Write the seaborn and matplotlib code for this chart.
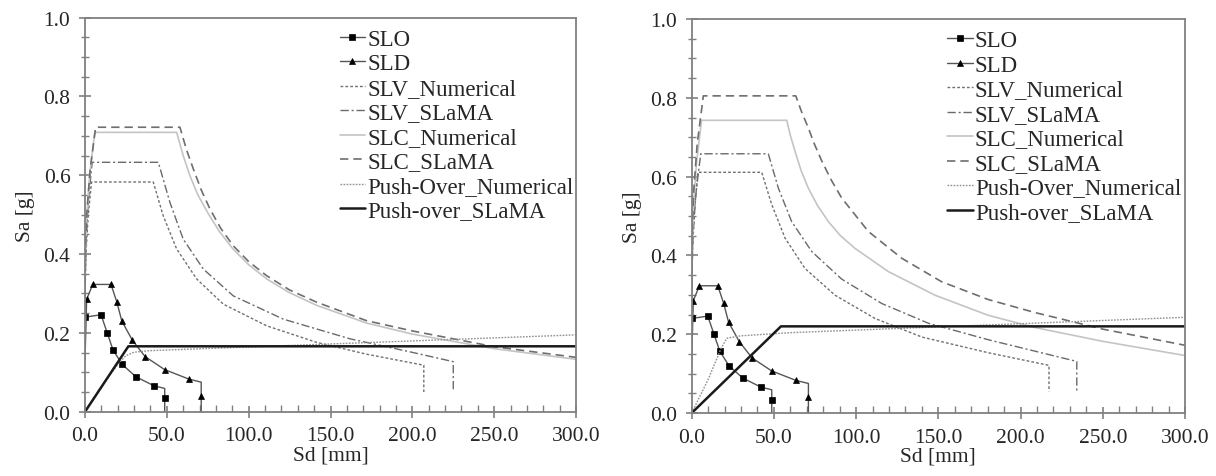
import numpy as np
import pandas as pd
import seaborn as sns
import matplotlib
matplotlib.use("Agg")
import matplotlib.pyplot as plt
from matplotlib.ticker import MultipleLocator, FormatStrFormatter

sns.set_theme(style="ticks")
plt.rcParams['font.family'] = ['Liberation Serif', 'DejaVu Serif']

# --- data (Sd in mm, Sa in g) ---

# SLO / SLD spectra are the same in both panels
slo_sd = [0.0, 9.8, 13.5, 17.1, 22.7, 31.0, 42.0, 48.7, 48.7, 48.7]
slo_sa = [0.240, 0.246, 0.201, 0.157, 0.120, 0.089, 0.066, 0.059, 0.034, 0.0]
slo_marks = [0, 1, 2, 3, 4, 5, 6, 8]

sld_sd = [0.0, 1.0, 4.7, 15.9, 19.4, 22.5, 29.0, 36.7, 48.6, 63.3, 71.0, 71.0, 71.0]
sld_sa = [0.130, 0.285, 0.323, 0.323, 0.279, 0.230, 0.181, 0.140, 0.107, 0.083, 0.075, 0.041, 0.0]
sld_marks = [1, 2, 3, 4, 5, 6, 7, 8, 9, 11]

# left panel
l_slvn_sd = [0.0, 0.14, 0.70, 1.91, 4.0, 41.7, 47.8, 56.0, 68.2, 84.5, 111.0, 141.5, 172.0, 207.0, 207.0]
l_slvn_sa = [0.233, 0.321, 0.408, 0.496, 0.583, 0.583, 0.497, 0.413, 0.337, 0.273, 0.218, 0.176, 0.146, 0.118, 0.050]
l_slvs_sd = [0.0, 0.15, 0.77, 2.10, 4.4, 44.8, 51.9, 60.0, 72.3, 90.6, 121.1, 161.9, 198.5, 225.0, 225.0]
l_slvs_sa = [0.253, 0.348, 0.443, 0.538, 0.633, 0.633, 0.531, 0.438, 0.362, 0.294, 0.235, 0.185, 0.152, 0.127, 0.055]
l_slcn_sd = [0.0, 0.20, 1.05, 2.87, 6.0, 56.0, 60.0, 64.0, 69.0, 75.0, 82.0, 90.0, 100.0, 111.0, 125.0, 141.5, 172.0, 200.0, 250.0, 300.0]
l_slcn_sa = [0.284, 0.390, 0.496, 0.603, 0.709, 0.709, 0.650, 0.600, 0.550, 0.505, 0.458, 0.415, 0.373, 0.337, 0.302, 0.270, 0.225, 0.197, 0.160, 0.133]
l_slcs_sd = [0.0, 0.22, 1.14, 3.11, 6.5, 58.0, 62.0, 66.2, 71.0, 76.4, 83.0, 90.6, 100.0, 111.0, 125.0, 141.5, 172.0, 200.0, 250.0, 300.0]
l_slcs_sa = [0.289, 0.397, 0.505, 0.614, 0.722, 0.722, 0.665, 0.616, 0.563, 0.514, 0.465, 0.421, 0.381, 0.345, 0.309, 0.278, 0.231, 0.205, 0.165, 0.138]
l_pon_sd = [0.0, 15.0, 21.4, 25.0, 30.0, 40.0, 300.0]
l_pon_sa = [0.0, 0.092, 0.127, 0.142, 0.151, 0.155, 0.195]
l_pos_sd = [0.0, 26.5, 300.0]
l_pos_sa = [0.0, 0.166, 0.166]

# right panel
r_slvn_sd = [0.0, 0.13, 0.67, 1.82, 3.8, 42.6, 48.7, 56.8, 68.9, 87.2, 111.5, 139.9, 180.4, 217.3, 217.3]
r_slvn_sa = [0.244, 0.336, 0.428, 0.519, 0.611, 0.611, 0.529, 0.444, 0.367, 0.299, 0.240, 0.193, 0.153, 0.121, 0.055]
r_slvs_sd = [0.0, 0.19, 0.96, 2.63, 5.5, 46.6, 52.7, 60.8, 73.0, 91.2, 115.6, 143.9, 180.4, 234.2, 234.2]
r_slvs_sa = [0.263, 0.362, 0.461, 0.559, 0.658, 0.658, 0.571, 0.486, 0.410, 0.340, 0.278, 0.228, 0.186, 0.131, 0.055]
r_slcn_sd = [0.0, 0.20, 1.05, 2.87, 6.0, 57.8, 60.0, 62.8, 66.5, 70.9, 76.5, 83.1, 90.5, 99.3, 119.6, 148.0, 180.4, 208.8, 250.0, 300.0]
r_slcn_sa = [0.297, 0.409, 0.520, 0.632, 0.743, 0.743, 0.705, 0.665, 0.616, 0.571, 0.527, 0.486, 0.450, 0.418, 0.359, 0.299, 0.248, 0.217, 0.182, 0.146]
r_slcs_sd = [0.0, 0.24, 1.24, 3.39, 7.1, 63.3, 66.8, 70.9, 74.8, 79.1, 84.8, 91.2, 107.4, 127.7, 152.1, 180.4, 208.8, 250.0, 300.0]
r_slcs_sa = [0.322, 0.443, 0.564, 0.684, 0.805, 0.805, 0.765, 0.724, 0.681, 0.640, 0.592, 0.546, 0.461, 0.393, 0.333, 0.288, 0.255, 0.213, 0.172]
r_pon_sd = [0.0, 10.0, 18.0, 21.4, 30.0, 60.0, 300.0]
r_pon_sa = [0.0, 0.085, 0.165, 0.190, 0.196, 0.204, 0.243]
r_pos_sd = [0.0, 54.3, 300.0]
r_pos_sa = [0.0, 0.220, 0.220]

x_ticks = [0, 50, 100, 150, 200, 250, 300]
y_ticks = [0.0, 0.2, 0.4, 0.6, 0.8, 1.0]

FS = 15.5
LEG_FS = 16.5
GRID = '#808080'


def draw_panel(ax, curves):
    for c in curves:
        df = pd.DataFrame({"Sd": c["sd"], "Sa": c["sa"]})
        kw = dict(color=c["color"], linewidth=c["lw"], linestyle=c["ls"])
        if "marker" in c:
            kw.update(marker=c["marker"], markevery=c["marks"], markersize=c["ms"],
                      markerfacecolor='black', markeredgecolor='black', markeredgewidth=0.5)
        sns.lineplot(data=df, x="Sd", y="Sa", ax=ax, sort=False, estimator=None,
                     label=c["name"], **kw)

    ax.set_xlim(0, 300)
    ax.set_ylim(0, 1.0)
    ax.set_xticks(x_ticks)
    ax.set_yticks(y_ticks)
    ax.xaxis.set_minor_locator(MultipleLocator(10))
    ax.yaxis.set_minor_locator(MultipleLocator(0.05))
    ax.xaxis.set_major_formatter(FormatStrFormatter('%.1f'))
    ax.yaxis.set_major_formatter(FormatStrFormatter('%.1f'))
    ax.tick_params(axis='both', which='major', direction='inout', length=9, width=1.2,
                   color=GRID, labelsize=FS, pad=6)
    ax.tick_params(axis='x', which='minor', direction='in', length=5, width=1.0, color=GRID)
    ax.tick_params(axis='y', which='minor', direction='inout', length=6, width=1.0, color=GRID)
    for s in ax.spines.values():
        s.set_visible(True)
        s.set_color(GRID)
        s.set_linewidth(1.3)
    ax.set_xlabel("Sd [mm]", fontsize=FS, labelpad=0)
    ax.set_ylabel("Sa [g]", fontsize=FS, labelpad=6)
    ax.legend(loc='upper left', bbox_to_anchor=(0.5, 0.995), frameon=False, fontsize=LEG_FS,
              handlelength=1.1, handletextpad=0.1, labelspacing=0.15, borderaxespad=0)


def make_curves(slvn, slvs, slcn, slcs, pon, pos):
    return [
        dict(name="SLO", sd=slo_sd, sa=slo_sa, color='#555555', lw=1.0, ls='-',
             marker='s', marks=slo_marks, ms=4.5),
        dict(name="SLD", sd=sld_sd, sa=sld_sa, color='#555555', lw=1.0, ls='-',
             marker='^', marks=sld_marks, ms=4.5),
        dict(name="SLV_Numerical", sd=slvn[0], sa=slvn[1], color='#707070', lw=1.0, ls=(0, (2, 1.5))),
        dict(name="SLV_SLaMA", sd=slvs[0], sa=slvs[1], color='#6a6a6a', lw=1.0, ls=(0, (6, 2, 1.5, 2))),
        dict(name="SLC_Numerical", sd=slcn[0], sa=slcn[1], color='#c4c4c4', lw=1.2, ls='-'),
        dict(name="SLC_SLaMA", sd=slcs[0], sa=slcs[1], color='#6e6e6e', lw=1.2, ls=(0, (5, 3))),
        dict(name="Push-Over_Numerical", sd=pon[0], sa=pon[1], color='#909090', lw=1.0, ls=(0, (1.2, 1))),
        dict(name="Push-over_SLaMA", sd=pos[0], sa=pos[1], color='#1a1a1a', lw=1.8, ls='-'),
    ]


fig = plt.figure(figsize=(12.16, 4.77), dpi=100)
ax1 = fig.add_axes([0.0699, 0.1348, 0.4038, 0.826])
ax2 = fig.add_axes([0.5688, 0.1320, 0.4057, 0.826])

draw_panel(ax1, make_curves((l_slvn_sd, l_slvn_sa), (l_slvs_sd, l_slvs_sa), (l_slcn_sd, l_slcn_sa),
                            (l_slcs_sd, l_slcs_sa), (l_pon_sd, l_pon_sa), (l_pos_sd, l_pos_sa)))
draw_panel(ax2, make_curves((r_slvn_sd, r_slvn_sa), (r_slvs_sd, r_slvs_sa), (r_slcn_sd, r_slcn_sa),
                            (r_slcs_sd, r_slcs_sa), (r_pon_sd, r_pon_sa), (r_pos_sd, r_pos_sa)))

fig.savefig("out.png", dpi=100)
